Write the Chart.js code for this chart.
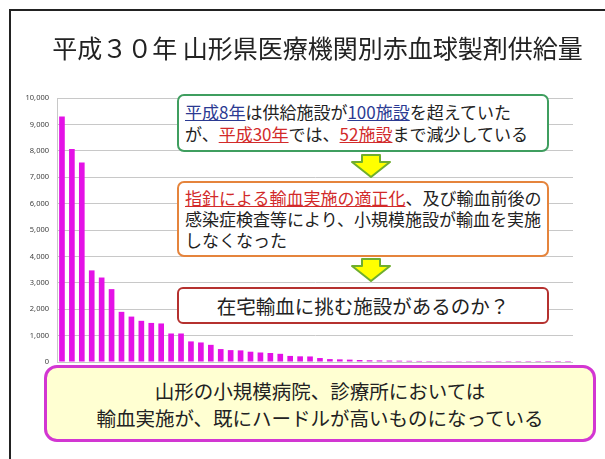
<!DOCTYPE html>
<html><head><meta charset="utf-8">
<script src="https://cdn.jsdelivr.net/npm/chart.js@4.4.0/dist/chart.umd.min.js"></script>
<style>
html,body{margin:0;padding:0;background:#fff;width:605px;height:459px;overflow:hidden;font-family:"Noto Sans CJK JP","Noto Sans",sans-serif;}
#frame{position:absolute;left:9px;top:9px;width:700px;height:600px;border:2px solid #222;box-sizing:border-box;}
#wrap{position:absolute;left:0;top:0;width:605px;height:459px;}
#title{position:absolute;left:0;top:29px;width:605px;text-align:center;font-size:25px;color:#222;line-height:36px;padding-left:30px;box-sizing:border-box;}
.box{position:absolute;box-sizing:border-box;background:#fff;color:#222;}
.u-b{color:#2b3a92;text-decoration:underline;text-decoration-color:#2b3a92;}
.u-r{color:#d22a2a;text-decoration:underline;text-decoration-color:#d22a2a;}
#b1{left:177px;top:94px;width:372px;height:58px;border:2px solid #3f9e5f;border-radius:7px;font-size:17px;line-height:22px;padding:5px 0 0 6px;}
#b2{left:177px;top:181px;width:372px;height:76px;border:2px solid #e5843c;border-radius:7px;font-size:17px;line-height:21px;padding:4px 0 0 6px;}
#b3{left:177px;top:287px;width:372px;height:37px;border:2px solid #b5312f;border-radius:6px;font-size:19.5px;line-height:33px;text-align:center;}
#b4{left:44px;top:365px;width:552px;height:77px;border:3px solid #d236d2;border-radius:13px;background:#ffffd2;font-size:19.5px;line-height:27px;text-align:center;padding-top:9px;}
.arrow{position:absolute;}
</style></head>
<body>
<div id="frame"></div>
<div id="wrap"><canvas id="c" width="605" height="459"></canvas></div>
<div id="title">平成３０年 山形県医療機関別赤血球製剤供給量</div>
<div class="box" id="b1"><span class="u-b">平成8年</span>は供給施設が<span class="u-b">100施設</span>を超えていた<br>が、<span class="u-r">平成30年</span>では、<span class="u-r">52施設</span>まで減少している</div>
<svg class="arrow" style="left:350px;top:154px" width="42" height="24" viewBox="0 0 42 24"><polygon points="12,1 30,1 30,8 40,8 21,23 2,8 12,8" fill="#ffff00" stroke="#6fae2e" stroke-width="2" stroke-linejoin="round"/></svg>
<div class="box" id="b2"><span class="u-r">指針による輸血実施の適正化</span>、及び輸血前後の<br>感染症検査等により、小規模施設が輸血を実施<br>しなくなった</div>
<svg class="arrow" style="left:350px;top:258px" width="42" height="24" viewBox="0 0 42 24"><polygon points="12,1 30,1 30,8 40,8 21,23 2,8 12,8" fill="#ffff00" stroke="#6fae2e" stroke-width="2" stroke-linejoin="round"/></svg>
<div class="box" id="b3">在宅輸血に挑む施設があるのか？</div>
<div class="box" id="b4">山形の小規模病院、診療所においては<br>輸血実施が、既にハードルが高いものになっている</div>
<script>
const facilities = [1,2,3,4,5,6,7,8,9,10,11,12,13,14,15,16,17,18,19,20,21,22,23,24,25,26,
  27,28,29,30,31,32,33,34,35,36,37,38,39,40,41,42,43,44,45,46,47,48,49,50,51,52];
const supply = [9300,8070,7560,3470,3200,2760,1900,1720,1560,1480,1460,1080,1080,780,740,650,
  490,450,440,390,360,340,310,230,215,210,150,110,100,90,75,65,60,55,50,45,40,35,30,
  8,7,6,5,5,4,3,3,2,2,1,1,1];
const yTicks = [0,1000,2000,3000,4000,5000,6000,7000,8000,9000,10000];

new Chart(document.getElementById('c'), {
  type: 'bar',
  data: { labels: facilities, datasets: [{ data: supply, backgroundColor: '#e412e6', barPercentage: 0.6, categoryPercentage: 0.95 }] },
  options: {
    responsive: false, animation: false,
    layout: { padding: { left: 0, right: 32, top: 98, bottom: 97 } },
    plugins: { legend: { display: false }, tooltip: { enabled: false } },
    scales: {
      x: { display: true, ticks: { display: false }, grid: { display: false, drawTicks: false }, border: { display: false } },
      y: {
        min: 0, max: 10000,
        afterBuildTicks: (s) => { s.ticks = yTicks.map(v => ({ value: v })); },
        afterFit: (s) => { s.width = 57; },
        ticks: { padding: 8, color: '#404040', font: { family: 'Noto Sans', size: 7.5 },
          callback: (v) => v.toLocaleString('en-US') },
        grid: { color: '#c8c8c8', drawTicks: false, lineWidth: 1 },
        border: { color: '#c8c8c8' }
      }
    }
  }
});
</script>
</body></html>
